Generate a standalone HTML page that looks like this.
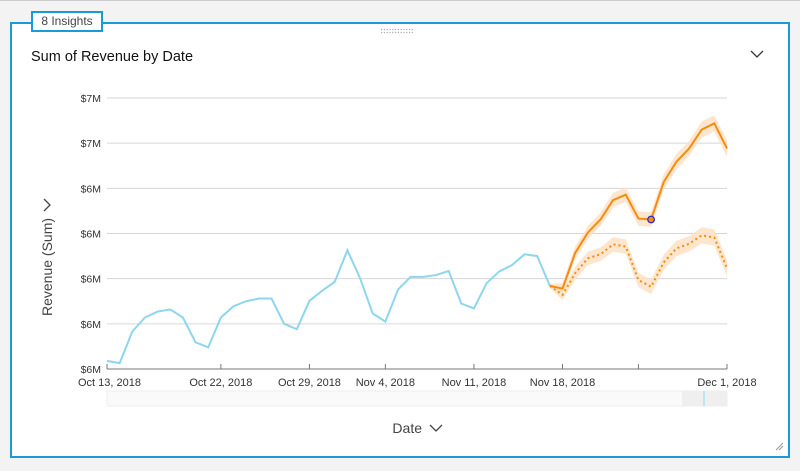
<!DOCTYPE html>
<html><head><meta charset="utf-8"><style>
body{margin:0;width:800px;height:471px;background:#f3f3f3;font-family:"Liberation Sans",sans-serif;overflow:hidden;position:relative}
#card{position:absolute;left:10px;top:22px;width:776px;height:432px;background:#fff;border:2px solid #1a9bd7}
#tab{position:absolute;left:31px;top:11px;width:68px;height:17px;background:#fff;border:2px solid #1a9bd7;font-size:12px;color:#444;text-align:center;line-height:17px}
#title{position:absolute;left:31px;top:49px;font-size:14.5px;color:#111}
</style></head><body>
<div style="position:absolute;left:0;top:0;width:800px;height:1px;background:#ccc"></div>
<div id="card"></div>
<div id="tab">8 Insights</div>
<div id="title">Sum of Revenue by Date</div>
<svg width="800" height="471" style="position:absolute;left:0;top:0" id="svg">
<g stroke="#aaa" stroke-width="1.2" stroke-dasharray="1.2 1.6">
<line x1="381" y1="29.5" x2="413" y2="29.5"/><line x1="381" y1="32.5" x2="413" y2="32.5"/></g>
<path d="M751 51 L757 57 L763 51" stroke="#333" stroke-width="1.3" fill="none"/>
<path d="M776 450 L783 443 M779 450 L783 446" stroke="#999" stroke-width="1"/>
<text transform="translate(52,316) rotate(-90)" text-anchor="start" font-size="14" fill="#444">Revenue (Sum)</text>
<path d="M44 199 L50 205 L44 211" stroke="#444" stroke-width="1.3" fill="none"/>
<text x="422" y="433" text-anchor="end" font-size="14" fill="#444">Date</text>
<path d="M430 425 L436 431 L442 425" stroke="#444" stroke-width="1.3" fill="none"/>
<rect x="107" y="391" width="620" height="15" fill="#fafafa" stroke="#eee"/>
<rect x="682" y="391" width="45" height="15" fill="#efefef"/>
<rect x="703" y="391" width="2" height="15" fill="#bde4f5"/>
<g id="grid"></g><g id="marks"></g>
</svg>
<script>
const yTicks=[6.0,6.1,6.2,6.3,6.4,6.5,6.6];
const yTickLabels=["$6M","$6M","$6M","$6M","$6M","$7M","$7M"];
const xTickDays=[0,9,16,22,29,36,42,49];
const xTickLabels=["Oct 13, 2018","Oct 22, 2018","Oct 29, 2018","Nov 4, 2018","Nov 11, 2018","Nov 18, 2018","","Dec 1, 2018"];
const actual=[6.018,6.013,6.083,6.114,6.127,6.132,6.114,6.059,6.048,6.114,6.139,6.150,6.156,6.156,6.100,6.088,6.151,6.173,6.193,6.263,6.201,6.123,6.105,6.176,6.204,6.204,6.208,6.217,6.145,6.134,6.190,6.216,6.230,6.254,6.250,6.184];
const forecastStart=35;
const forecastHigh=[6.184,6.178,6.257,6.302,6.331,6.374,6.386,6.333,6.331,6.414,6.459,6.488,6.530,6.544,6.488];
const forecastLow=[6.184,6.164,6.212,6.245,6.254,6.276,6.271,6.197,6.182,6.236,6.267,6.277,6.296,6.291,6.223];
const bandHalf=[0.004,0.012,0.014,0.015,0.015,0.016,0.016,0.016,0.016,0.017,0.017,0.017,0.018,0.018,0.018];
const highlightIndex=8;
const X0=107,X1=727,Y0=369,Y1=98;
const x=d=>X0+(X1-X0)*d/49;
const y=v=>Y0-(Y0-Y1)*(v-6.0)/0.6;
const NS="http://www.w3.org/2000/svg";
function mk(t,a,p){const e=document.createElementNS(NS,t);for(const k in a)e.setAttribute(k,a[k]);p.appendChild(e);return e;}
const grid=document.getElementById('grid'),marks=document.getElementById('marks');
yTicks.forEach((v,i)=>{
 if(i>0){const l=mk('line',{x1:X0,x2:X1,y1:y(v),y2:y(v),stroke:'#d6d6d6'},grid);
 
 }
 const t=mk('text',{x:101,y:y(v)+4,'text-anchor':'end','font-size':10.5,fill:'#333'},grid);t.textContent=yTickLabels[i];
 
 
});
const ax=mk('line',{x1:X0,x2:X1,y1:Y0,y2:Y0,stroke:'#777'},grid);


xTickDays.forEach((d,i)=>{
 const tk=mk('line',{x1:x(d),x2:x(d),y1:Y0-5,y2:Y0,stroke:'#777'},grid);
 
 
 if(xTickLabels[i]){const t=mk('text',{x:i==0?x(d)-29:x(d),y:386,'text-anchor':i==0?'start':'middle','font-size':11,fill:'#333'},grid);t.textContent=xTickLabels[i];
 
 }
});
function band(arr){let up=arr.map((v,i)=>x(forecastStart+i)+','+y(v+bandHalf[i]));let dn=arr.map((v,i)=>x(forecastStart+i)+','+y(v-bandHalf[i])).reverse();return 'M'+up.join('L')+'L'+dn.join('L')+'Z';}
const b1=mk('path',{d:band(forecastHigh),fill:'#fde2c4',opacity:0.85},marks);


const b2=mk('path',{d:band(forecastLow),fill:'#fde2c4',opacity:0.85},marks);


const a=mk('polyline',{points:actual.map((v,i)=>x(i)+','+y(v)).join(' '),fill:'none',stroke:'#8dd6ee','stroke-width':2},marks);


const fh=mk('polyline',{points:forecastHigh.map((v,i)=>x(forecastStart+i)+','+y(v)).join(' '),fill:'none',stroke:'#f68b0f','stroke-width':2},marks);


const fl=mk('polyline',{points:forecastLow.map((v,i)=>x(forecastStart+i)+','+y(v)).join(' '),fill:'none',stroke:'#f68b0f','stroke-width':2,'stroke-dasharray':'2 3'},marks);


const pt=mk('circle',{cx:x(forecastStart+highlightIndex),cy:y(forecastHigh[highlightIndex]),r:3.3,fill:'#f68b0f',stroke:'#2222cc','stroke-width':1.2},marks);


</script>
</body></html>
